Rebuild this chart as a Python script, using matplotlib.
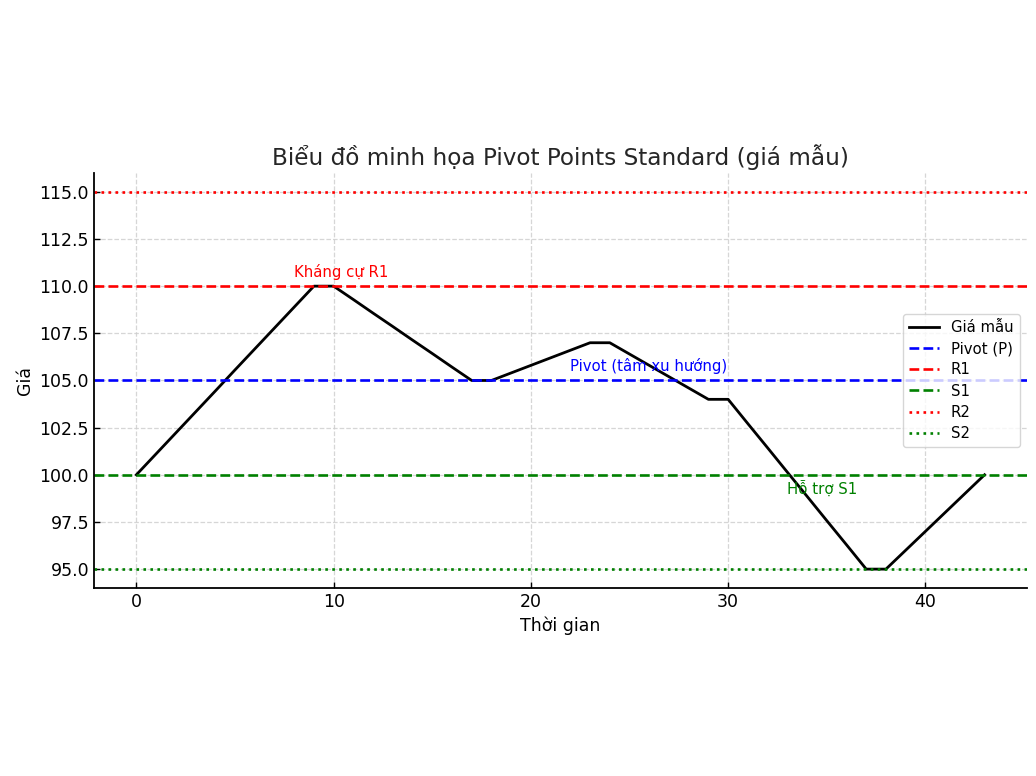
import matplotlib.pyplot as plt

# Dữ liệu giá mẫu
thoi_gian = list(range(44))
gia = [100, 101.11, 102.22, 103.33, 104.44, 105.56, 106.67, 107.78, 108.89, 110,
       110, 109.29, 108.57, 107.86, 107.14, 106.43, 105.71, 105,
       105, 105.4, 105.8, 106.2, 106.6, 107,
       107, 106.4, 105.8, 105.2, 104.6, 104,
       104, 102.71, 101.43, 100.14, 98.86, 97.57, 96.29, 95,
       95, 96, 97, 98, 99, 100]

# Mức pivot
P = 105
R1 = 110
S1 = 100
R2 = 115
S2 = 95

fig = plt.figure(figsize=(10.36, 7.76), dpi=100)
fig.set_facecolor('white')
ax = fig.add_axes([0.0907, 0.2423, 0.9006, 0.5348])

ax.plot(thoi_gian, gia, color='black', linewidth=2.0, label='Giá mẫu')
ax.axhline(P, color='blue', linestyle='--', linewidth=1.9, label='Pivot (P)')
ax.axhline(R1, color='red', linestyle='--', linewidth=1.9, label='R1')
ax.axhline(S1, color='green', linestyle='--', linewidth=1.9, label='S1')
ax.axhline(R2, color='red', linestyle=':', linewidth=1.9, label='R2')
ax.axhline(S2, color='green', linestyle=':', linewidth=1.9, label='S2')

# chú thích trên các đường
ax.text(8, R1 + 0.5, 'Kháng cự R1', color='red', fontsize=10.7)
ax.text(22, P + 0.5, 'Pivot (tâm xu hướng)', color='blue', fontsize=10.7)
ax.text(33, S1 - 1, 'Hỗ trợ S1', color='green', fontsize=10.7)

ax.set_title('Biểu đồ minh họa Pivot Points Standard (giá mẫu)', fontsize=16.7, color='#262626')
ax.set_xlabel('Thời gian', fontsize=12.5)
ax.set_ylabel('Giá', fontsize=12.5)
ax.set_yticks([95, 97.5, 100, 102.5, 105, 107.5, 110, 112.5, 115])
ax.set_yticklabels(['95.0', '97.5', '100.0', '102.5', '105.0', '107.5', '110.0', '112.5', '115.0'])
ax.tick_params(direction='in', labelsize=12.5, width=1.0, length=4)
ax.grid(True, linestyle='--', color='#cccccc', alpha=0.8, linewidth=0.9)
ax.spines['top'].set_visible(False)
ax.spines['right'].set_visible(False)
ax.spines['left'].set_linewidth(1.3)
ax.spines['bottom'].set_linewidth(1.3)
ax.set_xlim(-2.15, 45.15)
ax.set_ylim(94, 116)

ax.legend(loc='center right', fontsize=10.7, labelspacing=0.42, edgecolor='#cccccc')

fig.savefig('out.png', dpi=100)
plt.close()
